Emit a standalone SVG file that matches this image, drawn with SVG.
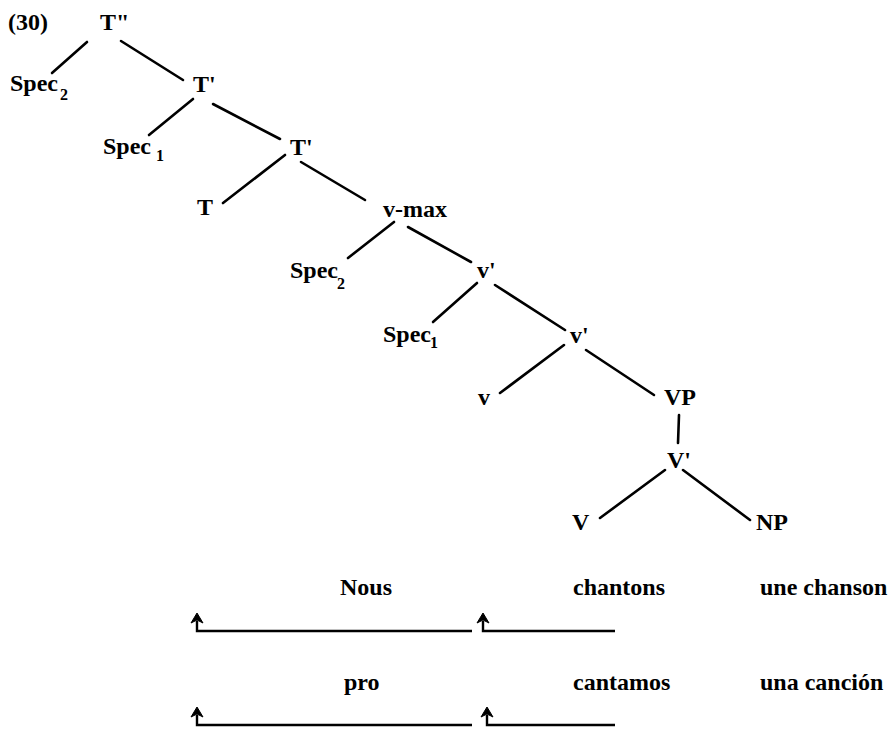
<svg xmlns="http://www.w3.org/2000/svg" width="890" height="729" viewBox="0 0 890 729">
<defs>
<style>
text{font-family:"Liberation Serif","Times New Roman",serif;font-size:24px;font-weight:bold;fill:#000}
.sub{font-size:16px}
.edge{stroke:#000;stroke-width:2.6;stroke-linecap:round;fill:none}
.arr{stroke:#000;stroke-width:2.4;fill:none}
.head{fill:#000;stroke:#000;stroke-width:1;stroke-linejoin:round}
</style>
<path id="ah" class="head" d="M0,-10 L6,0 L0,-3 L-6,0 Z"/>
</defs>
<rect width="890" height="729" fill="#fff"/>
<text x="8" y="30">(30)</text>
<g id="connectors">
<line class="edge" x1="87" y1="42" x2="52" y2="73"/>
<line class="edge" x1="121" y1="41" x2="183" y2="80"/>
<line class="edge" x1="193" y1="99" x2="149" y2="135"/>
<line class="edge" x1="213" y1="104" x2="280" y2="139"/>
<line class="edge" x1="285" y1="155" x2="223" y2="203"/>
<line class="edge" x1="301" y1="162" x2="365" y2="200"/>
<line class="edge" x1="394" y1="222" x2="348" y2="258"/>
<line class="edge" x1="408" y1="227" x2="471" y2="262"/>
<line class="edge" x1="477" y1="283" x2="433" y2="322"/>
<line class="edge" x1="495" y1="285" x2="565" y2="330"/>
<line class="edge" x1="564" y1="345" x2="500" y2="393"/>
<line class="edge" x1="586" y1="350" x2="654" y2="395"/>
<line class="edge" x1="679" y1="415" x2="678" y2="443"/>
<line class="edge" x1="665" y1="470" x2="600" y2="518"/>
<line class="edge" x1="683" y1="470" x2="750" y2="520"/>
<path class="arr" d="M472,631 H197 V621"/>
<use href="#ah" x="197" y="623"/>
<path class="arr" d="M615,631 H483 V621"/>
<use href="#ah" x="483" y="623"/>
<path class="arr" d="M472,725 H197 V715"/>
<use href="#ah" x="197" y="717"/>
<path class="arr" d="M615,725 H487 V715"/>
<use href="#ah" x="487" y="717"/>
</g>
<g id="n-Tdp"><text x="100" y="30">T"</text></g>
<g id="n-Spec2a"><text x="10" y="91">Spec</text><text class="sub" x="60" y="100">2</text></g>
<g id="n-Tp1"><text x="193" y="92">T'</text></g>
<g id="n-Spec1a"><text x="103" y="154">Spec</text><text class="sub" x="156" y="161">1</text></g>
<g id="n-Tp2"><text x="290" y="155">T'</text></g>
<g id="n-T"><text x="197" y="215">T</text></g>
<g id="n-vmax"><text x="383" y="217">v-max</text></g>
<g id="n-Spec2b"><text x="290" y="278">Spec</text><text class="sub" x="337" y="289">2</text></g>
<g id="n-vp1"><text x="477" y="278">v'</text></g>
<g id="n-Spec1b"><text x="383" y="342">Spec</text><text class="sub" x="430" y="348">1</text></g>
<g id="n-vp2"><text x="570" y="343">v'</text></g>
<g id="n-v"><text x="478" y="405">v</text></g>
<g id="n-VP"><text x="664" y="405">VP</text></g>
<g id="n-Vp"><text x="667" y="468">V'</text></g>
<g id="n-V"><text x="572" y="530">V</text></g>
<g id="n-NP"><text x="756" y="530">NP</text></g>
<g id="fr"><text x="340" y="595">Nous</text><text x="573" y="595">chantons</text><text x="760" y="595">une chanson</text></g>
<g id="es"><text x="344" y="690">pro</text><text x="573" y="690">cantamos</text><text x="760" y="690">una canción</text></g>
</svg>
